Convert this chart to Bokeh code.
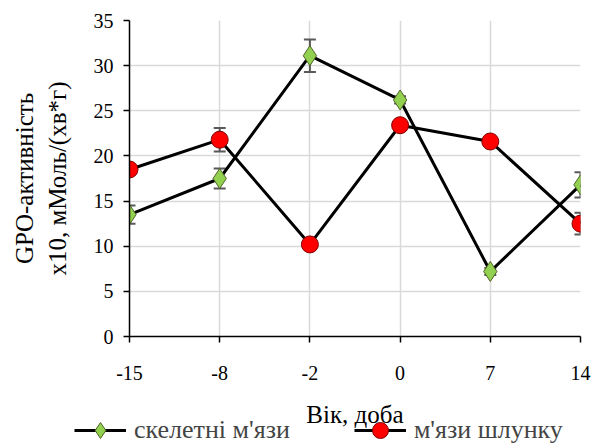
from bokeh.plotting import figure
from bokeh.layouts import column
from bokeh.models import Range1d, FixedTicker, Legend, LegendItem, ColumnDataSource
from bokeh.embed import file_html
from bokeh.resources import INLINE

days = ["-15", "-8", "-2", "0", "7", "14"]
skeletal = [13.5, 17.5, 31.1, 26.2, 7.2, 16.8]
skeletal_err = [1.0, 1.1, 1.8, 0.4, 0.4, 1.4]
stomach = [18.5, 21.8, 10.2, 23.4, 21.6, 12.5]
stomach_err = [0.4, 1.3, 0.6, 0.4, 0.3, 1.2]
y_ticks = [0, 5, 10, 15, 20, 25, 30, 35]
series_names = ["скелетні м'язи", "м'язи шлунку"]

xs = list(range(len(days)))
FONT = "Liberation Serif"
GREEN = "#92d050"
GREEN_EDGE = "#4f6228"
RED = "#ff0000"
RED_EDGE = "#7f0000"
ERR = "#595959"

p = figure(width=598, height=443, output_backend="svg", toolbar_location=None,
           x_range=Range1d(0, len(days) - 1), y_range=Range1d(0, 35),
           min_border_left=129, min_border_right=18, min_border_top=20, min_border_bottom=107)
p.outline_line_color = None
p.background_fill_color = "white"
p.border_fill_color = "white"

p.xaxis.ticker = FixedTicker(ticks=xs)
p.xaxis.major_label_overrides = {i: d for i, d in enumerate(days)}
p.yaxis.ticker = FixedTicker(ticks=y_ticks)
for ax in (p.xaxis, p.yaxis):
    ax.axis_line_color = "black"
    ax.axis_line_width = 1.5
    ax.major_tick_line_color = "black"
    ax.major_tick_line_width = 1.5
    ax.major_tick_out = 6
    ax.major_tick_in = 0
    ax.minor_tick_line_color = None
    ax.major_label_text_font = FONT
    ax.major_label_text_font_size = "20px"
    ax.major_label_text_color = "black"
    ax.axis_label_text_font = FONT
    ax.axis_label_text_font_style = "normal"
    ax.axis_label_text_color = "black"
p.xaxis.major_label_standoff = 23
p.yaxis.major_label_standoff = 10
p.xaxis.axis_label = "Вік, доба"
p.xaxis.axis_label_text_font_size = "25px"
p.xaxis.axis_label_standoff = 18
p.yaxis.axis_label = "GPO-активність\nx10, мМоль/(хв*г)"
p.yaxis.axis_label_text_font_size = "25px"
p.yaxis.axis_label_standoff = 20

p.xgrid.grid_line_color = "#d9d9d9"
p.ygrid.grid_line_color = "#d9d9d9"
p.xgrid.grid_line_width = 1.5
p.ygrid.grid_line_width = 1.5

src = ColumnDataSource(dict(
    x=xs, sk=skeletal,
    sk_lo=[v - e for v, e in zip(skeletal, skeletal_err)],
    sk_hi=[v + e for v, e in zip(skeletal, skeletal_err)],
    st=stomach,
    st_lo=[v - e for v, e in zip(stomach, stomach_err)],
    st_hi=[v + e for v, e in zip(stomach, stomach_err)],
))

for lo, hi in (("sk_lo", "sk_hi"), ("st_lo", "st_hi")):
    p.segment(x0="x", x1="x", y0=lo, y1=hi, source=src, line_color=ERR, line_width=2)
    p.scatter(x="x", y=lo, source=src, marker="dash", size=12, line_color=ERR, line_width=2)
    p.scatter(x="x", y=hi, source=src, marker="dash", size=12, line_color=ERR, line_width=2)

p.line(x="x", y="sk", source=src, line_color="black", line_width=3)
p.line(x="x", y="st", source=src, line_color="black", line_width=3)
p.scatter(x="x", y="sk", source=src, marker="diamond", size=20,
          fill_color=GREEN, line_color=GREEN_EDGE, line_width=1)
p.scatter(x="x", y="st", source=src, marker="circle", size=17,
          fill_color=RED, line_color=RED_EDGE, line_width=1)

# legend strip, overlapping the bottom of the chart like in the original;
# its renderers draw the same series but far outside its (invisible) view
lg = figure(width=598, height=40, output_backend="svg", toolbar_location=None,
            x_range=Range1d(0, 1), y_range=Range1d(1000, 1001),
            min_border=0, x_axis_location=None, y_axis_location=None)
lg.outline_line_color = None
lg.grid.visible = False
lg.background_fill_alpha = 0
lg.border_fill_alpha = 0
e1 = lg.line(x="x", y="sk", source=src, line_color="black", line_width=3)
s1 = lg.scatter(x="x", y="sk", source=src, marker="diamond",
                fill_color=GREEN, line_color=GREEN_EDGE, line_width=1)
e2 = lg.line(x="x", y="st", source=src, line_color="black", line_width=3)
s2 = lg.scatter(x="x", y="st", source=src, marker="circle",
                fill_color=RED, line_color=RED_EDGE, line_width=1)
legend = Legend(items=[LegendItem(label=series_names[0], renderers=[e1, s1]),
                       LegendItem(label=series_names[1], renderers=[e2, s2])],
                location=(74, -7), orientation="horizontal",
                background_fill_alpha=0, border_line_color=None,
                label_text_font=FONT, label_text_font_size="26px",
                glyph_width=52, glyph_height=40, label_height=40,
                label_standoff=8, spacing=64, padding=0, margin=0)
lg.add_layout(legend, "center")

legend_box = column(lg, spacing=0, margin=(-40, 0, 0, 0))
layout = column(p, legend_box, spacing=0)
open("out.html", "w").write(file_html(layout, INLINE))
